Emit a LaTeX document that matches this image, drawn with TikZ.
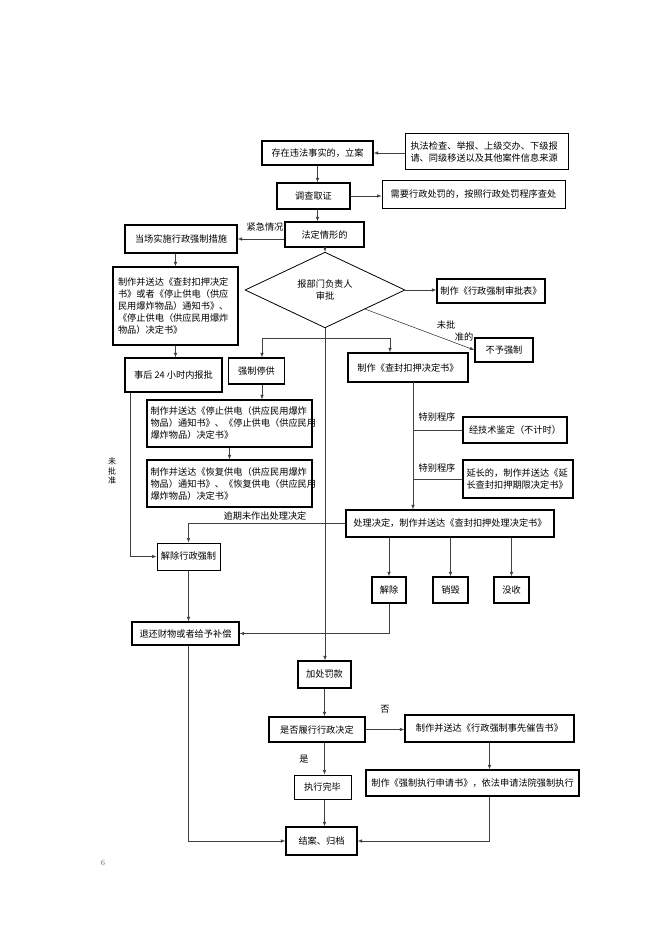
\documentclass[tikz,border=0pt]{standalone}
\usepackage{fontspec}
\newfontfamily\cjk{Noto Sans CJK SC}
\usetikzlibrary{shapes.geometric,arrows.meta,calc}
\newcommand{\bx}[7][]{\node[box,#1,minimum width=#5pt,minimum height=#6pt] (#2) at (#3,#4) {#7};}
\begin{document}
\begin{tikzpicture}[x=1pt,y=-1pt,
  every node/.style={font=\cjk\fontsize{9.2}{12}\selectfont},
  box/.style={draw=black,line width=1.3pt,inner sep=3pt,align=center,fill=white},
  ml/.style={align=left},
  conn/.style={draw=black!75,line width=0.6pt},
  arr/.style={conn,-{Latex[length=4.5pt,width=3.5pt]}},
  lbl/.style={inner sep=0pt},
]
\fill[white] (0,0) rectangle (662,936);
\useasboundingbox (0,0) rectangle (662,936);

% boxes
\bx{b1}{317.5}{153}{111}{24}{存在违法事实的，立案}
\bx[line width=1pt,ml,text width=152pt]{src}{486.5}{152}{163}{36}{执法检查、举报、上级交办、下级报\\请、同级移送以及其他案件信息来源}
\bx{b2}{313.5}{196}{73}{26}{调查取证}
\bx[line width=1pt]{pen}{473.5}{194.5}{183}{27}{需要行政处罚的，按照行政处罚程序查处}
\bx{b3}{324.5}{234.5}{79}{25}{法定情形的}
\bx{emg}{181}{239}{112}{28}{当场实施行政强制措施}
\bx[ml,text width=115pt]{dec}{175.5}{306}{125}{78}{制作并送达《查封扣押决定\\书》或者《停止供电（供应\\民用爆炸物品）通知书》、\\《停止供电（供应民用爆炸\\物品）决定书》}
\bx{rep}{173.5}{375}{97}{34}{事后 24 小时内报批}
\node[draw=black,line width=0.8pt,shape=diamond,inner sep=0pt,minimum width=160pt,minimum height=60pt,align=center,fill=white] (dia) at (325,290) {报部门负责人\\审批};
\bx{tab}{491}{291}{108}{24}{制作《行政强制审批表》}
\bx{no}{504}{350}{58}{24}{不予强制}
\bx{stop}{256.5}{371}{56}{26}{强制停供}
\bx{seal}{408}{367.5}{120}{29}{制作《查封扣押决定书》}
\bx[ml,text width=158pt]{sp1}{229.5}{423.5}{165}{47}{制作并送达《停止供电（供应民用爆炸\\物品）通知书》、《停止供电（供应民用\\爆炸物品）决定书》}
\bx[ml,text width=158pt]{sp2}{229.5}{483.5}{165}{47}{制作并送达《恢复供电（供应民用爆炸\\物品）通知书》、《恢复供电（供应民用\\爆炸物品）决定书》}
\bx{tech}{515}{430}{104}{26}{经技术鉴定（不计时）}
\bx[ml,text width=103pt,inner sep=2pt]{ext}{518}{479}{110}{38}{延长的，制作并送达《延\\长查封扣押期限决定书》}
\bx{proc}{450}{523.5}{208}{27}{处理决定，制作并送达《查封扣押处理决定书》}
\bx[line width=1pt]{rel}{188.5}{556.5}{63}{27}{解除行政强制}
\bx{jc}{389}{590}{34}{26}{解除}
\bx{xh}{450.5}{590}{35}{26}{销毁}
\bx{ms}{511.5}{590}{35}{26}{没收}
\bx{ret}{185.5}{633.5}{107}{23}{退还财物或者给予补偿}
\bx{fine}{324.5}{674.5}{53}{27}{加处罚款}
\bx{q}{317}{729.5}{96}{25}{是否履行行政决定}
\bx{notice}{489.5}{728.5}{169}{27}{制作并送达《行政强制事先催告书》}
\bx[line width=1pt]{done}{322.5}{787}{57}{24}{执行完毕}
\bx{court}{472.5}{783}{213}{26}{制作《强制执行申请书》，依法申请法院强制执行}
\bx{end}{321.5}{841}{71}{28}{结案、归档}

% coordinates
\coordinate (br1) at (262,338);
\coordinate (br2) at (390,338);
\coordinate (sv) at (413,382);

% connectors
\draw[arr] (src.west |- b1.east) -- (b1.east);
\draw[arr] (b1.south) -- (b1.south |- b2.north);
\draw[arr] (b2.east) -- (pen.west |- b2.east);
\draw[arr] (b1.south |- b2.south) -- (b1.south |- b3.north);
\draw[arr] (b3.west |- emg.east) -- (emg.east);
\node[lbl] (lemg) at (265,227) {紧急情况};
\draw[arr] (dia.north |- b3.south) -- (dia.north);
\draw[arr] (dec.north |- emg.south) -- (dec.north);
\draw[arr] (dec.south) -- (dec.south |- rep.north);
\draw[arr] (dia.east) -- (tab.west |- dia.east);
\draw[arr] (dia.south east) -- (no.west);
\node[lbl,align=left] (lno) at (455,331) {未批\\\hspace{18pt}准的};
\draw[conn] (br1) -- (br2);
\draw[arr] (br1) -- (br1 |- stop.north);
\draw[arr] (br2) -- (br2 |- seal.north);
\draw[arr] (br1 |- stop.south) -- (br1 |- sp1.north);
\draw[arr] (sp1.south) -- (sp1.south |- sp2.north);
\draw[arr] (sv) -- (sv |- proc.north);
\draw[conn] (sv |- tech.west) -- (tech.west);
\draw[conn] (sv |- ext.west) -- (ext.west);
\node[lbl] (sp1l) at (437,417) {特别程序};
\node[lbl] (sp2l) at (437,468) {特别程序};
\draw[arr] ([xshift=6pt]rep.south west) -- ([xshift=6pt]rep.south west |- rel.west) -- (rel.west);
\node[lbl,align=center,font=\cjk\fontsize{8}{9.5}\selectfont] (lnb) at (112,471) {未\\批\\准};
\draw[arr] (proc.west) -- (rel.north |- proc.west) -- (rel.north);
\node[lbl] (lover) at (265,516) {逾期未作出处理决定};
\draw[arr] (jc.north |- proc.south) -- (jc.north);
\draw[arr] (xh.north |- proc.south) -- (xh.north);
\draw[arr] (ms.north |- proc.south) -- (ms.north);
\draw[arr] (rel.south) -- (rel.south |- ret.north);
\draw[arr] (jc.south) -- (jc.south |- ret.east) -- (ret.east);
\draw[arr] (dia.south) -- (dia.south |- fine.north);
\draw[arr] (fine.south) -- (fine.south |- q.north);
\draw[arr] (q.east) -- (notice.west |- q.east);
\node[lbl] (lno2) at (385,709) {否};
\draw[arr] (fine.south |- q.south) -- (fine.south |- done.north);
\node[lbl] (lyes) at (304,759) {是};
\draw[arr] (fine.south |- done.south) -- (fine.south |- end.north);
\draw[arr] (court.north -| notice.south) ++(0,0) (notice.south) -- (notice.south |- court.north);
\draw[arr] (notice.south |- court.south) -- (notice.south |- end.east) -- (end.east);
\draw[arr] (rel.south |- ret.south) -- (rel.south |- end.west) -- (end.west);

\node[lbl,text=black!60,font=\fontsize{8}{9}\selectfont] (pg) at (103,863) {6};
\end{tikzpicture}
\end{document}
